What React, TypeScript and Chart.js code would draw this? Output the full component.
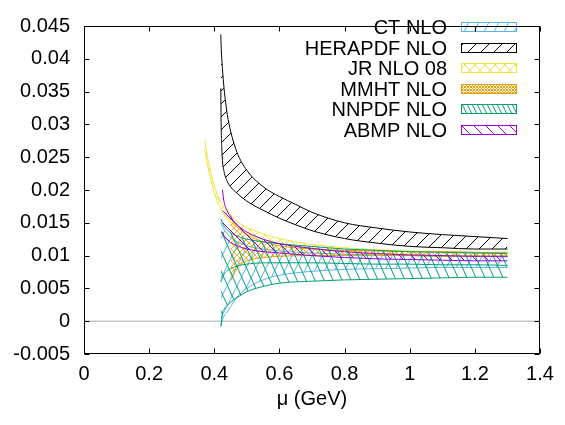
import React, { useEffect, useRef } from 'react';
import { Chart, registerables } from 'chart.js';

Chart.register(...registerables);

// ---------- data ----------
const SERIES_LABELS = ['CT NLO', 'HERAPDF NLO', 'JR NLO 08', 'MMHT NLO', 'NNPDF NLO', 'ABMP NLO'];
const COLORS = ['#56b4e9', '#000000', '#f0e442', '#e69f00', '#009e73', '#9400d3'];

const X_CT = [0.42, 0.425, 0.43, 0.44, 0.45, 0.47, 0.5, 0.55, 0.6, 0.7, 0.8, 0.9, 1.0, 1.1, 1.2, 1.3];
const CT_UPPER = [0.0150, 0.0145, 0.0140, 0.0133, 0.0128, 0.0121, 0.0115, 0.0110, 0.0107, 0.0104, 0.0102, 0.0101, 0.0100, 0.0099, 0.0099, 0.0098];
const CT_LOWER = [-0.0008, 0.0002, 0.0008, 0.0014, 0.0022, 0.0037, 0.0050, 0.0063, 0.0070, 0.0076, 0.0079, 0.0080, 0.0081, 0.0082, 0.0082, 0.0082];

const X_HERA = [0.42, 0.421, 0.423, 0.425, 0.43, 0.44, 0.45, 0.47, 0.5, 0.55, 0.6, 0.65, 0.7, 0.8, 0.9, 1.0, 1.1, 1.2, 1.3];
const HERA_UPPER = [0.0437, 0.0420, 0.0400, 0.0385, 0.0355, 0.0315, 0.0290, 0.0257, 0.0230, 0.0205, 0.0190, 0.0178, 0.0166, 0.0150, 0.0142, 0.0136, 0.0132, 0.0129, 0.0126];
const HERA_LOWER = [0.0355, 0.0300, 0.0265, 0.0245, 0.0228, 0.0213, 0.0205, 0.0195, 0.0183, 0.0169, 0.0157, 0.0147, 0.0138, 0.0126, 0.0119, 0.0114, 0.0112, 0.0110, 0.0110];

const X_JR = [0.371, 0.375, 0.38, 0.39, 0.40, 0.41, 0.42, 0.44, 0.47, 0.5, 0.55, 0.6, 0.7, 0.8, 0.9, 1.0, 1.1, 1.2, 1.3];
const JR_UPPER = [0.0277, 0.0262, 0.0248, 0.0225, 0.0207, 0.0193, 0.0182, 0.0166, 0.0152, 0.0143, 0.0133, 0.0126, 0.0117, 0.0112, 0.0109, 0.0107, 0.0106, 0.0105, 0.0104];
const JR_LOWER = [0.0262, 0.0249, 0.0236, 0.0214, 0.0196, 0.0182, 0.0171, 0.0156, 0.0143, 0.0134, 0.0125, 0.0119, 0.0111, 0.0106, 0.0103, 0.0101, 0.0100, 0.0099, 0.0099];

const X_MMHT = [0.45, 0.455, 0.46, 0.47, 0.48, 0.5, 0.55, 0.6, 0.7, 0.8, 0.9, 1.0, 1.1, 1.2, 1.3];
const MMHT_UPPER = [0.0162, 0.0156, 0.0150, 0.0144, 0.0139, 0.0132, 0.0121, 0.0115, 0.0110, 0.0108, 0.0107, 0.0106, 0.0106, 0.0105, 0.0105];
const MMHT_LOWER = [0.0062, 0.0066, 0.0071, 0.0080, 0.0086, 0.0092, 0.0097, 0.0099, 0.0100, 0.0100, 0.0100, 0.0100, 0.0099, 0.0099, 0.0099];

const X_NNPDF = [0.42, 0.425, 0.43, 0.44, 0.45, 0.47, 0.5, 0.55, 0.6, 0.7, 0.8, 0.9, 1.0, 1.1, 1.2, 1.3];
const NNPDF_UPPER = [0.0156, 0.0150, 0.0145, 0.0139, 0.0135, 0.0130, 0.0125, 0.0121, 0.0118, 0.0114, 0.0110, 0.0108, 0.0106, 0.0105, 0.0104, 0.0103];
const NNPDF_LOWER = [-0.0008, 0.0012, 0.0018, 0.0024, 0.0029, 0.0036, 0.0045, 0.0053, 0.0058, 0.0061, 0.0063, 0.0064, 0.0065, 0.0066, 0.0067, 0.0067];
const NNPDF_MID = [0.0060, 0.0066, 0.0072, 0.0077, 0.0080, 0.0084, 0.0087, 0.0089, 0.0089, 0.0089, 0.0088, 0.0087, 0.0087, 0.0086, 0.0086, 0.0085];

const X_ABMP = [0.425, 0.43, 0.44, 0.45, 0.47, 0.5, 0.55, 0.6, 0.7, 0.8, 0.9, 1.0, 1.1, 1.2, 1.3];
const ABMP_UPPER = [0.0200, 0.0182, 0.0168, 0.0159, 0.0147, 0.0136, 0.0125, 0.0118, 0.0111, 0.0106, 0.0103, 0.0101, 0.0100, 0.0099, 0.0099];
const ABMP_LOWER = [0.0136, 0.0130, 0.0124, 0.0120, 0.0115, 0.0110, 0.0106, 0.0104, 0.0100, 0.0097, 0.0095, 0.0094, 0.0093, 0.0092, 0.0092];

const X_TICK_LABELS = ['0', '0.2', '0.4', '0.6', '0.8', '1', '1.2', '1.4'];
const Y_TICK_LABELS = ['-0.005', '0', '0.005', '0.01', '0.015', '0.02', '0.025', '0.03', '0.035', '0.04', '0.045'];
const X_TITLE = 'μ (GeV)';

const FONT = "'Liberation Sans', Arial, sans-serif";

function makeHatch(color: string, w: number, h: number, dirs: string[], lw = 1) {
  const c = document.createElement('canvas');
  c.width = w;
  c.height = h;
  const g = c.getContext('2d')!;
  g.strokeStyle = color;
  g.lineWidth = lw;
  for (const d of dirs) {
    for (let k = -1; k <= 1; k++) {
      g.beginPath();
      if (d === '/') {
        g.moveTo(k * w, h);
        g.lineTo(k * w + w, 0);
      } else {
        g.moveTo(k * w, 0);
        g.lineTo(k * w + w, h);
      }
      g.stroke();
    }
  }
  return g.createPattern(c, 'repeat')!;
}

const pts = (xs: number[], ys: number[]) => xs.map((x, i) => ({ x, y: ys[i] }));

export default function App() {
  const ref = useRef<HTMLCanvasElement | null>(null);

  useEffect(() => {
    document.body.style.margin = '0';
    const canvas = ref.current!;
    const patterns = [
      makeHatch(COLORS[0], 10, 20, ['/']),
      makeHatch(COLORS[1], 13, 13, ['/']),
      makeHatch(COLORS[2], 10, 10, ['/', '\\']),
      makeHatch(COLORS[3], 6, 6, ['/', '\\'], 0.8),
      makeHatch(COLORS[4], 9, 20, ['\\']),
      makeHatch(COLORS[5], 12, 12, ['\\']),
    ];
    const legendPatterns = [
      patterns[0], patterns[1], patterns[2],
      makeHatch(COLORS[3], 3, 3, ['/', '\\'], 1),
      makeHatch(COLORS[4], 5, 10, ['\\']),
      patterns[5],
    ];
    const bands = [
      [X_CT, CT_UPPER, CT_LOWER],
      [X_HERA, HERA_UPPER, HERA_LOWER],
      [X_JR, JR_UPPER, JR_LOWER],
      [X_MMHT, MMHT_UPPER, MMHT_LOWER],
      [X_NNPDF, NNPDF_UPPER, NNPDF_LOWER],
      [X_ABMP, ABMP_UPPER, ABMP_LOWER],
    ];
    const datasets: any[] = [];
    bands.forEach((b, i) => {
      const common = {
        borderColor: COLORS[i],
        borderWidth: 1,
        pointRadius: 0,
        cubicInterpolationMode: 'monotone',
        order: 10 - i,
      };
      datasets.push({ ...common, label: SERIES_LABELS[i], data: pts(b[0], b[1]), fill: '+1', backgroundColor: patterns[i] });
      datasets.push({ ...common, label: SERIES_LABELS[i] + ' lower', data: pts(b[0], b[2]), fill: false });
      if (i === 4) {
        datasets.push({ ...common, label: 'NNPDF mid', data: pts(X_NNPDF, NNPDF_MID), fill: false });
      }
    });

    const xVals = X_TICK_LABELS.map(Number);
    const yVals = Y_TICK_LABELS.map(Number);

    const frame = {
      id: 'frame',
      beforeDatasetsDraw(chart: any) {
        const { ctx, chartArea: a, scales } = chart;
        const y0 = scales.y.getPixelForValue(0);
        ctx.save();
        ctx.strokeStyle = '#c8c8c8';
        ctx.lineWidth = 1.5;
        ctx.beginPath();
        ctx.moveTo(a.left, y0);
        ctx.lineTo(a.right, y0);
        ctx.stroke();
        ctx.restore();
      },
      afterDraw(chart: any) {
        const { ctx, chartArea: a, scales } = chart;
        ctx.save();
        ctx.strokeStyle = '#000';
        ctx.lineWidth = 1;
        const L = Math.round(a.left) + 0.5, R = Math.round(a.right) - 0.5;
        const T = Math.round(a.top) + 0.5, B = Math.round(a.bottom) - 0.5;
        ctx.strokeRect(L, T, R - L, B - T);
        const tl = 5;
        ctx.beginPath();
        xVals.forEach((v) => {
          const px = Math.round(scales.x.getPixelForValue(v)) + 0.5;
          ctx.moveTo(px, B); ctx.lineTo(px, B - tl);
          ctx.moveTo(px, T); ctx.lineTo(px, T + tl);
        });
        yVals.forEach((v) => {
          const py = Math.round(scales.y.getPixelForValue(v)) + 0.5;
          ctx.moveTo(L, py); ctx.lineTo(L + tl, py);
          ctx.moveTo(R, py); ctx.lineTo(R - tl, py);
        });
        ctx.stroke();
        ctx.restore();
      },
    };

    const legend = {
      id: 'bandLegend',
      afterDatasetsDraw(chart: any) {
        const { ctx } = chart;
        ctx.save();
        ctx.font = `20px ${FONT}`;
        ctx.textAlign = 'right';
        ctx.textBaseline = 'alphabetic';
        SERIES_LABELS.forEach((lab, i) => {
          const base = 34 + i * 20.6;
          ctx.fillStyle = '#000';
          ctx.fillText(lab, 447, base);
          const top = Math.round(base - 12) + 0.5;
          ctx.fillStyle = legendPatterns[i];
          ctx.fillRect(461, top, 56, 9);
          ctx.strokeStyle = COLORS[i];
          ctx.lineWidth = 1;
          ctx.strokeRect(461.5, top, 55, 9);
        });
        ctx.restore();
      },
    };

    const chart = new Chart(canvas, {
      type: 'line',
      data: { datasets },
      options: {
        animation: false,
        responsive: false,
        maintainAspectRatio: false,
        layout: { padding: { left: 0, top: 11, right: 25, bottom: 0 } },
        plugins: { legend: { display: false }, tooltip: { enabled: false } },
        elements: { line: { tension: 0.4 } },
        scales: {
          x: {
            type: 'linear',
            min: 0,
            max: 1.4,
            afterFit: (s: any) => { s.height = 71; },
            afterBuildTicks: (s: any) => { s.ticks = xVals.map((value) => ({ value })); },
            grid: { display: false, drawTicks: false },
            border: { display: false },
            ticks: {
              padding: 8,
              color: '#000',
              font: { family: FONT, size: 20 },
              maxRotation: 0,
              callback: (v: any) => X_TICK_LABELS[xVals.findIndex((t) => Math.abs(t - v) < 1e-9)] ?? '',
            },
            title: {
              display: true,
              text: X_TITLE,
              color: '#000',
              font: { family: FONT, size: 20 },
              padding: { top: 0, bottom: 14 },
            },
          },
          y: {
            type: 'linear',
            min: -0.005,
            max: 0.045,
            afterFit: (s: any) => { s.width = 84; },
            afterBuildTicks: (s: any) => { s.ticks = yVals.map((value) => ({ value })); },
            grid: { display: false, drawTicks: false },
            border: { display: false },
            ticks: {
              padding: 14,
              color: '#000',
              font: { family: FONT, size: 20 },
              callback: (v: any) => Y_TICK_LABELS[yVals.findIndex((t) => Math.abs(t - v) < 1e-9)] ?? '',
            },
          },
        },
      },
      plugins: [frame, legend],
    } as any);

    return () => chart.destroy();
  }, []);

  return <canvas ref={ref} width={565} height={425} style={{ display: 'block', width: 565, height: 425 }} />;
}
